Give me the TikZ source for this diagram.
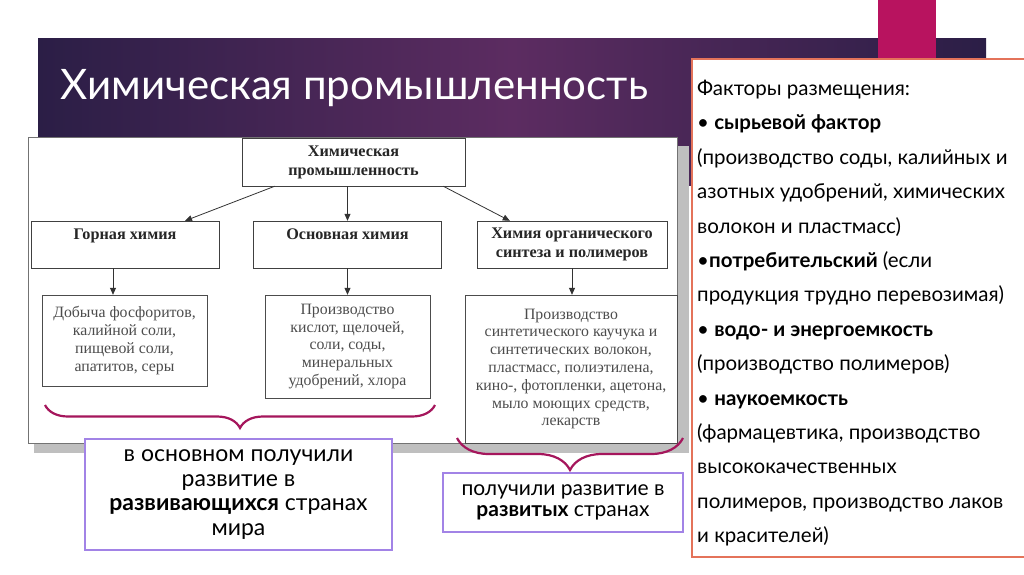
\documentclass[tikz,border=0pt]{standalone}
\usepackage{fontspec}
\setmainfont{Liberation Serif}
\newfontfamily\gothic{Lato}
\usetikzlibrary{arrows.meta, positioning, decorations.pathreplacing, calc}
\usepackage{xcolor}
\definecolor{bannerDark}{HTML}{2B1E46}
\definecolor{bannerMid}{HTML}{5C2C61}
\definecolor{accentPink}{HTML}{B8135F}
\definecolor{panelLine}{HTML}{E4735A}
\definecolor{noteLine}{HTML}{A283E6}
\definecolor{braceLine}{HTML}{A5165C}
\tikzset{
    >={Triangle[length=7pt,width=6pt]},
    % Diagram boxes
    head/.style={draw=black!75, fill=white, align=center, inner sep=2pt,
                 font=\fontsize{16.2}{19}\selectfont\bfseries, text=black!85},
    list/.style={draw=black!70, fill=white, align=center, inner sep=2pt,
                 font=\fontsize{15.8}{17.8}\selectfont, text=black!70},
    flow/.style={->, black!80, line width=0.8pt},
    % Braces and notes
    curly/.style={decorate, decoration={brace, mirror, amplitude=#1},
                  line width=2.2pt, braceLine},
    note/.style={draw=noteLine, line width=1.2pt, fill=white, align=center,
                 font=\gothic\fontsize{23}{24.5}\selectfont}
}

\begin{document}
\begin{tikzpicture}[x=1pt, y=-1pt]
\useasboundingbox (0,0) rectangle (1024,574);
\fill[white] (0,0) rectangle (1024,574);

% Banner
\shade[left color=bannerDark, right color=bannerDark, middle color=bannerMid]
    (38,38) rectangle (986,185);
\fill[accentPink] (878,0) rectangle (936,60);
\node[anchor=west, text=white, font=\gothic\fontsize{42}{48}\selectfont] (title)
    at (57,88) {Химическая промышленность};

% Right panel
\draw[panelLine, line width=1.2pt, fill=white] (692,59) rectangle (1040,557);
\node[anchor=north west, align=left, inner sep=0pt,
      font=\gothic\fontsize{20.5}{34.4}\selectfont] (factors) at (697,80)
    {Факторы размещения:\\
     • \textbf{сырьевой фактор}\\
     (производство соды, калийных и\\
     азотных удобрений, химических\\
     волокон и пластмасс)\\
     •\textbf{потребительский} (если\\
     продукция трудно перевозимая)\\
     • \textbf{водо- и энергоемкость}\\
     (производство полимеров)\\
     • \textbf{наукоемкость}\\
     (фармацевтика, производство\\
     высококачественных\\
     полимеров, производство лаков\\
     и красителей)};

% Scheme picture
\fill[black!25] (34,146) rectangle (689,453);
\draw[black!55, fill=white] (28,137) rectangle (677,443);

\node[head, minimum width=223, minimum height=48] (chem) at (353.5,162)
    {Химическая\\промышленность};
\node[head, minimum width=188, minimum height=47, text depth=20pt] (mining) at (125,244.5)
    {Горная химия};
\node[head, minimum width=188, minimum height=47, text depth=20pt] (basic) at (347.5,244.5)
    {Основная химия};
\node[head, minimum width=190, minimum height=47] (organic) at (572,244.5)
    {Химия органического\\синтеза и полимеров};

\node[list, minimum width=165, minimum height=91] (mines) at (124.5,340.5)
    {Добыча фосфоритов,\\калийной соли,\\пищевой соли,\\апатитов, серы};
\node[list, minimum width=165, minimum height=103] (acids) at (347.5,346.5)
    {Производство\\кислот, щелочей,\\соли, соды,\\минеральных\\удобрений, хлора};
\node[list, minimum width=212, minimum height=148] (polymers) at (571,369)
    {Производство\\синтетического каучука и\\синтетических волокон,\\пластмасс, полиэтилена,\\кино-, фотопленки, ацетона,\\мыло моющих средств,\\лекарств};

% Arrows
\draw[flow] ([xshift=33pt]chem.south west) -- ([xshift=60pt]mining.north);
\draw[flow] (chem.south -| basic.north) -- (basic.north);
\draw[flow] ([xshift=-22pt]chem.south east) -- ([xshift=33pt]organic.north west);
\draw[flow] ([xshift=-12pt]mining.south) -- ([xshift=-12pt]mining.south |- mines.north);
\draw[flow] (basic.south) -- (basic.south |- acids.north);
\draw[flow] (organic.south) -- (organic.south |- polymers.north);

% Braces
\draw[curly=23pt] (45,405) -- (435,405);
\draw[curly=32pt] (457,438) -- (683,438);

% Notes
\node[note, minimum width=307, minimum height=111] (developing) at (238.5,494.5)
    {в основном получили\\развитие в\\\textbf{развивающихся} странах\\мира};
\node[note, minimum width=240, minimum height=59, inner sep=2pt,
      font=\gothic\fontsize{21}{21.5}\selectfont] (developed) at (563,502.5)
    {получили развитие в\\\textbf{развитых} странах};
\end{tikzpicture}
\end{document}
